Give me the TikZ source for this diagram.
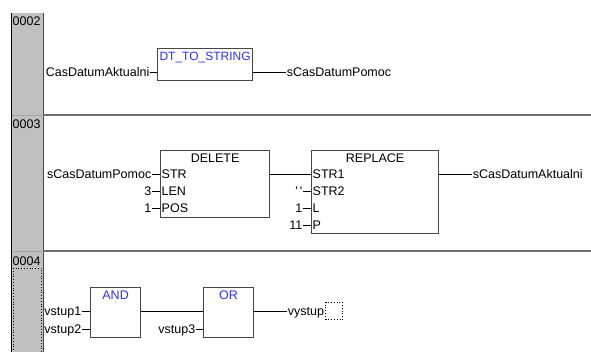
\documentclass[tikz,border=0pt]{standalone}
\usepackage{fontspec}
\setmainfont{Liberation Sans}
\usetikzlibrary{positioning}
\definecolor{fb-blue}{RGB}{45,45,255}
\definecolor{fb-frame}{RGB}{70,70,70}
\definecolor{col-gray}{RGB}{192,192,192}
\definecolor{sep-gray}{RGB}{110,110,110}
\tikzset{
  fblock/.style={draw=fb-frame, line width=1.2pt, inner sep=0pt, anchor=north west},
  fbtitle/.style={inner sep=0pt, text height=8.8pt, text depth=0pt},
  pinlbl/.style={inner sep=0pt, text height=8.8pt, text depth=0pt},
  varlbl/.style={inner sep=0.5pt, text height=8.8pt, text depth=0pt},
  wire/.style={line width=0.8pt},
  netsep/.style={sep-gray, line width=1.5pt},
}

\begin{document}
\begin{tikzpicture}[x=1pt,y=-1pt,every node/.style={font=\fontsize{12.5pt}{14pt}\selectfont}]
    \useasboundingbox (0,0) rectangle (591,352);
    % label column and network borders
    \fill[col-gray] (12,13) rectangle (43,352);
    \draw[line width=1pt] (11.5,13) -- (11.5,352);
    \draw[fb-frame, line width=1pt] (43,13) -- (43,352);
    \draw[netsep] (43,115) -- (591,115);
    \draw[netsep] (43,251) -- (591,251);
    \draw[gray!70, line width=0.8pt] (12,115) -- (43,115);
    \draw[gray!70, line width=0.8pt] (12,251) -- (43,251);
    \draw[dotted, line width=0.8pt] (13.5,268) rectangle (41.5,352);
    \node[anchor=west, varlbl] (net2) at (12,21.5) {0002};
    \node[anchor=west, varlbl] (net3) at (12,124) {0003};
    \node[anchor=west, varlbl] (net4) at (12,261.5) {0004};

    % network 0002
    \node[fblock, minimum width=95pt, minimum height=32pt] (dts) at (157,48) {};
    \node[fbtitle, text=fb-blue, font=\fontsize{12pt}{14pt}\selectfont, below=3.5pt of dts.north] {DT\_TO\_STRING};
    \coordinate[below=24pt of dts.north west] (dts-in);
    \coordinate[below=24pt of dts.north east] (dts-out);
    \node[varlbl, left=7pt of dts-in] (dts-x) {CasDatumAktualni};
    \node[varlbl, right=33pt of dts-out] (dts-y) {sCasDatumPomoc};
    \draw[wire] (dts-x) -- (dts-in);
    \draw[wire] (dts-out) -- (dts-y);

    % network 0003
    \node[fblock, minimum width=109pt, minimum height=67pt] (del) at (160,150) {};
    \node[fbtitle, below=3.5pt of del.north] {DELETE};
    \coordinate[below=24pt of del.north west] (del-str);
    \coordinate[below=17pt of del-str] (del-len);
    \coordinate[below=17pt of del-len] (del-pos);
    \coordinate[below=24pt of del.north east] (del-out);
    \node[pinlbl, right=1.5pt of del-str] {STR};
    \node[pinlbl, right=1.5pt of del-len] {LEN};
    \node[pinlbl, right=1.5pt of del-pos] {POS};
    \node[varlbl, left=8pt of del-str] (del-a) {sCasDatumPomoc};
    \node[varlbl, left=8pt of del-len] (del-b) {3};
    \node[varlbl, left=8pt of del-pos] (del-c) {1};
    \draw[wire] (del-a) -- (del-str);
    \draw[wire] (del-b) -- (del-len);
    \draw[wire] (del-c) -- (del-pos);

    \node[fblock, minimum width=127pt, minimum height=83pt] (rep) at (311,150) {};
    \node[fbtitle, below=3.5pt of rep.north] {REPLACE};
    \coordinate[below=24pt of rep.north west] (rep-str1);
    \coordinate[below=17pt of rep-str1] (rep-str2);
    \coordinate[below=17pt of rep-str2] (rep-l);
    \coordinate[below=17pt of rep-l] (rep-p);
    \coordinate[below=24pt of rep.north east] (rep-out);
    \node[pinlbl, right=1.5pt of rep-str1] {STR1};
    \node[pinlbl, right=1.5pt of rep-str2] {STR2};
    \node[pinlbl, right=1.5pt of rep-l] {L};
    \node[pinlbl, right=1.5pt of rep-p] {P};
    \node[varlbl, left=8pt of rep-str2] (rep-b) {\textquotesingle\,\textquotesingle};
    \node[varlbl, left=8pt of rep-l] (rep-c) {1};
    \node[varlbl, left=8pt of rep-p] (rep-d) {11};
    \node[varlbl, right=33pt of rep-out] (rep-y) {sCasDatumAktualni};
    \draw[wire] (del-out) -- (rep-str1);
    \draw[wire] (rep-b) -- (rep-str2);
    \draw[wire] (rep-c) -- (rep-l);
    \draw[wire] (rep-d) -- (rep-p);
    \draw[wire] (rep-out) -- (rep-y);

    % network 0004
    \node[fblock, minimum width=50pt, minimum height=50pt] (and) at (90,287) {};
    \node[fbtitle, text=fb-blue, below=3.5pt of and.north] {AND};
    \coordinate[below=24pt of and.north west] (and-in1);
    \coordinate[below=18pt of and-in1] (and-in2);
    \coordinate[below=24pt of and.north east] (and-out);
    \node[varlbl, left=8pt of and-in1] (and-a) {vstup1};
    \node[varlbl, left=8pt of and-in2] (and-b) {vstup2};
    \draw[wire] (and-a) -- (and-in1);
    \draw[wire] (and-b) -- (and-in2);

    \node[fblock, minimum width=50pt, minimum height=50pt] (or) at (203,287) {};
    \node[fbtitle, text=fb-blue, below=3.5pt of or.north] {OR};
    \coordinate[below=24pt of or.north west] (or-in1);
    \coordinate[below=18pt of or-in1] (or-in2);
    \coordinate[below=24pt of or.north east] (or-out);
    \node[varlbl, left=7pt of or-in2] (or-b) {vstup3};
    \node[varlbl, right=33pt of or-out] (or-y) {vystup};
    \node[draw, dotted, line width=0.8pt, minimum size=17pt, inner sep=0pt, right=0.5pt of or-y] (or-edit) {};
    \draw[wire] (and-out) -- (or-in1);
    \draw[wire] (or-b) -- (or-in2);
    \draw[wire] (or-out) -- (or-y);
\end{tikzpicture}
\end{document}
